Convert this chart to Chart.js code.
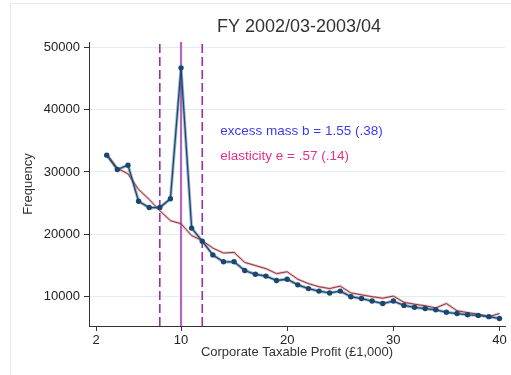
<!DOCTYPE html>
<html>
<head>
<meta charset="utf-8">
<title>FY 2002/03-2003/04</title>
<script src="https://cdn.jsdelivr.net/npm/chart.js@4.4.1/dist/chart.umd.min.js"></script>
<style>
  html, body { margin: 0; padding: 0; background: #fff; }
</style>
</head>
<body>
<canvas id="bunching" width="511" height="375"></canvas>
<script>
// profit bins (£1,000) and firm counts per bin
const profitBins = [3, 4, 5, 6, 7, 8, 9, 10, 11, 12, 13, 14, 15, 16, 17, 18, 19, 20, 21,
  22, 23, 24, 25, 26, 27, 28, 29, 30, 31, 32, 33, 34, 35, 36, 37, 38, 39, 40];
const observedCounts = [32700, 30400, 31100, 25300, 24300, 24300, 25700, 46700, 21000, 18900,
  16700, 15600, 15600, 14200, 13600, 13300, 12600, 12800, 11900, 11300, 10900, 10600, 10900,
  10000, 9700, 9300, 8900, 9300, 8600, 8300, 8100, 7900, 7500, 7300, 7100, 7000, 6800, 6500];
const counterfactualCounts = [32900, 30600, 29700, 27200, 25600, 23800, 22200, 21700, 19800, 19000,
  17800, 17000, 17100, 15500, 15000, 14500, 13700, 14000, 12800, 12100, 11600, 11300, 11700,
  10600, 10300, 10000, 9750, 10100, 9100, 8800, 8550, 8200, 8900, 7750, 7450, 7200, 6800, 7300];

const xTicks = [2, 10, 20, 30, 40];
const yTicks = [10000, 20000, 30000, 40000, 50000];

const kinkPoint = 10;
const excludedWindow = [8, 12];
const estimateLabels = ["excess mass b = 1.55 (.38)", "elasticity e = .57 (.14)"];

// axis ranges
const xMin = 1.33, xMax = 40.52;
const yMin = 5300, yMax = 50850;

const FONT = '"Liberation Sans", Arial, sans-serif';
const NAVY = "#1a476f";
const MAROON = "#98303a";
const PURPLE = "#9e2ea0";

const toPoints = (ys) => profitBins.map((x, i) => ({ x: x, y: ys[i] }));
const vline = (x) => [{ x: x, y: yMin }, { x: x, y: yMax }];

const lineDefaults = { pointRadius: 0, fill: false, tension: 0 };

const datasets = [
  { ...lineDefaults, data: toPoints(observedCounts), borderColor: NAVY, borderWidth: 1.3,
    pointRadius: 2.7, pointBackgroundColor: NAVY, pointBorderWidth: 0 },
  { ...lineDefaults, data: toPoints(observedCounts), borderColor: "rgba(60,100,140,0.45)", borderWidth: 3.2 },
  { ...lineDefaults, data: toPoints(counterfactualCounts), borderColor: MAROON, borderWidth: 1 },
  { ...lineDefaults, data: toPoints(counterfactualCounts), borderColor: "rgba(170,80,85,0.35)", borderWidth: 2.6 },
  { ...lineDefaults, data: vline(excludedWindow[0]), borderColor: PURPLE, borderWidth: 1.6, borderDash: [9, 4] },
  { ...lineDefaults, data: vline(excludedWindow[1]), borderColor: PURPLE, borderWidth: 1.6, borderDash: [9, 4] },
  { ...lineDefaults, data: vline(kinkPoint), borderColor: "#b564c2", borderWidth: 2.2 },
];

// title, estimate text and light frame
const decorations = {
  id: "decorations",
  beforeDraw(chart) {
    const c = chart.ctx;
    c.save();
    c.strokeStyle = "#e3ebee";
    c.lineWidth = 1;
    c.beginPath();
    c.moveTo(10.5, 375);
    c.lineTo(10.5, 3.5);
    c.lineTo(511, 3.5);
    c.stroke();
    c.restore();
  },
  afterDraw(chart) {
    const c = chart.ctx;
    const xs = chart.scales.x, ys = chart.scales.y;
    c.save();
    c.fillStyle = "#333";
    c.font = "18px " + FONT;
    c.textAlign = "center";
    c.textBaseline = "middle";
    c.fillText("FY 2002/03-2003/04", 299, 27);

    c.font = "13.5px " + FONT;
    c.textAlign = "left";
    c.textBaseline = "alphabetic";
    const tx = xs.getPixelForValue(13.7);
    c.fillStyle = "#3b3bf0";
    c.fillText(estimateLabels[0], tx, ys.getPixelForValue(35900));
    c.fillStyle = "#e3308c";
    c.fillText(estimateLabels[1], tx, ys.getPixelForValue(32000));
    c.restore();
  }
};

new Chart(document.getElementById("bunching").getContext("2d"), {
  type: "line",
  data: { datasets: datasets },
  options: {
    responsive: false,
    animation: false,
    layout: { padding: { top: 42, right: 6, bottom: 15, left: 0 } },
    plugins: { legend: { display: false }, tooltip: { enabled: false } },
    scales: {
      x: {
        type: "linear",
        min: xMin,
        max: xMax,
        afterBuildTicks: (s) => { s.ticks = xTicks.map((v) => ({ value: v })); },
        afterFit: (s) => { s.height = 34; },
        grid: { drawOnChartArea: false, tickLength: 5, tickColor: "#333" },
        border: { color: "#333", width: 1 },
        ticks: { padding: 2, color: "#222", font: { family: FONT, size: 13 } },
        title: { display: true, text: "Corporate Taxable Profit (£1,000)", color: "#333",
          padding: 0, font: { family: FONT, size: 13 } }
      },
      y: {
        type: "linear",
        min: yMin,
        max: yMax,
        afterBuildTicks: (s) => { s.ticks = yTicks.map((v) => ({ value: v })); },
        afterFit: (s) => { s.width = 89; },
        grid: { color: "#e4eef0", tickLength: 5, tickColor: "#333" },
        border: { color: "#333", width: 1 },
        ticks: { padding: 4, color: "#222", font: { family: FONT, size: 13 },
          callback: (v) => String(v) },
        title: { display: true, text: "Frequency", color: "#333",
          padding: { top: 21, bottom: 0 }, font: { family: FONT, size: 13 } }
      }
    }
  },
  plugins: [decorations]
});
</script>
</body>
</html>
